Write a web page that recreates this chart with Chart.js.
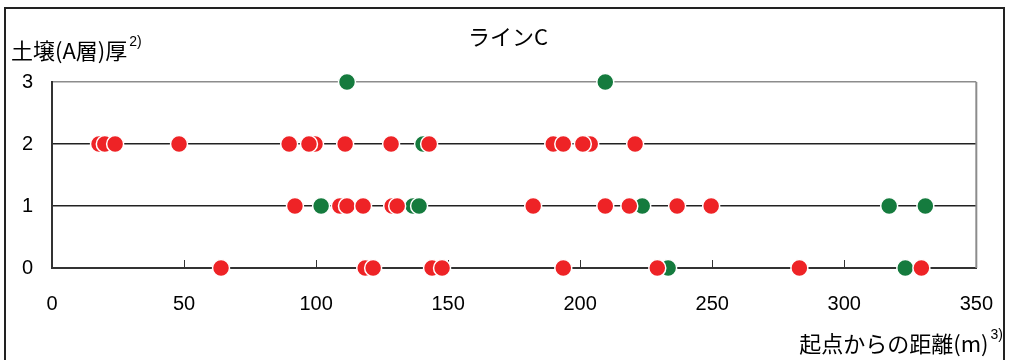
<!DOCTYPE html>
<html lang="ja">
<head>
    <meta charset="UTF-8">
    <title>ラインC</title>
    <script src="https://cdn.jsdelivr.net/npm/chart.js"></script>
    <style>
        body { margin: 0; background: #fff; }
        #wrap { width: 1009px; height: 360px; }
    </style>
</head>
<body>
    <div id="wrap"><canvas id="lineC" width="1009" height="360"></canvas></div>

    <script>
        // Distances (m), one array per thickness level
        const redRow0 = [64, 118.6, 121.6, 143.9, 147.7, 193.6, 229.2, 283, 329.2];
        const greenRow0 = [233.3, 323.1];
        const redRow1 = [92, 109, 111.7, 117.8, 128.8, 130.7, 182.2, 209.5, 218.6, 236.7, 249.6];
        const greenRow1 = [101.9, 136.7, 139, 223.5, 317, 330.7];
        const redRow2 = [17.8, 20, 23.9, 48.1, 89.8, 99.6, 97.3, 111, 128.4, 142.8, 189.8, 193.6, 203.8, 201, 220.8];
        const greenRow2 = [140.5];
        const greenRow3 = [111.7, 209.5];

        const xTicks = [0, 50, 100, 150, 200, 250, 300, 350];
        const yTicks = [0, 1, 2, 3];

        const chartTitle = 'ラインC';
        const yTitle = '土壌(A層)厚';
        const yTitleSup = '2)';
        const xTitle = '起点からの距離(m)';
        const xTitleSup = '3)';

        const RED = '#ee2326';
        const GREEN = '#157b3e';
        const jpFont = '"Noto Sans CJK JP", sans-serif';

        function toPoints(xs, level) {
            return xs.map(x => ({ x: x, y: level }));
        }

        const redPoints = [].concat(
            toPoints(redRow0, 0), toPoints(redRow1, 1), toPoints(redRow2, 2)
        );
        const greenPoints = [].concat(
            toPoints(greenRow0, 0), toPoints(greenRow1, 1), toPoints(greenRow2, 2), toPoints(greenRow3, 3)
        );

        // frame, inner tick marks, right border and the texts with superscripts
        const decorPlugin = {
            id: 'decor',
            beforeDatasetsDraw(chart) {
                const ctx = chart.ctx;
                const area = chart.chartArea;
                const xs = chart.scales.x;
                ctx.save();
                // small ticks pointing up into the plot
                ctx.strokeStyle = '#333';
                ctx.lineWidth = 1;
                xTicks.forEach(v => {
                    if (v === 0 || v === 350) return;
                    const px = Math.round(xs.getPixelForValue(v)) + 0.5;
                    ctx.beginPath();
                    ctx.moveTo(px, area.bottom);
                    ctx.lineTo(px, area.bottom - 8);
                    ctx.stroke();
                });
                // right border of the plot
                ctx.strokeStyle = '#8c8c8c';
                ctx.lineWidth = 2;
                ctx.beginPath();
                ctx.moveTo(area.right, area.top);
                ctx.lineTo(area.right, area.bottom);
                ctx.stroke();
                ctx.restore();
            },
            afterDraw(chart) {
                const ctx = chart.ctx;
                ctx.save();
                // outer frame
                ctx.strokeStyle = '#222';
                ctx.lineWidth = 2;
                ctx.strokeRect(5, 8, 999, 420);

                ctx.fillStyle = '#000';
                ctx.textBaseline = 'middle';

                // title
                ctx.font = '22px ' + jpFont;
                ctx.textAlign = 'center';
                ctx.fillText(chartTitle, 508, 37);

                // y title, top left
                ctx.textAlign = 'left';
                ctx.font = '22px ' + jpFont;
                ctx.fillText(yTitle, 11, 51);
                const yw = ctx.measureText(yTitle).width;
                ctx.font = '14px "Liberation Sans", sans-serif';
                ctx.fillText(yTitleSup, 11 + yw + 2, 42);

                // x title, bottom right
                ctx.font = '14px "Liberation Sans", sans-serif';
                const sw = ctx.measureText(xTitleSup).width;
                ctx.textAlign = 'left';
                ctx.fillText(xTitleSup, 1003 - sw, 335);
                ctx.font = '22px ' + jpFont;
                ctx.textAlign = 'right';
                ctx.fillText(xTitle, 1003 - sw - 2, 344);
                ctx.restore();
            }
        };

        new Chart(document.getElementById('lineC'), {
            type: 'scatter',
            data: {
                datasets: [
                    {
                        label: 'red',
                        data: redPoints,
                        backgroundColor: RED,
                        borderColor: '#fff',
                        borderWidth: 1.5,
                        pointRadius: 8.5,
                        pointHoverRadius: 8.5,
                        clip: false,
                        order: 0
                    },
                    {
                        label: 'green',
                        data: greenPoints,
                        backgroundColor: GREEN,
                        borderColor: '#fff',
                        borderWidth: 1.5,
                        pointRadius: 8.5,
                        pointHoverRadius: 8.5,
                        clip: false,
                        order: 1
                    }
                ]
            },
            options: {
                responsive: false,
                animation: false,
                events: [],
                layout: {
                    padding: { top: 82, right: 21, left: 0, bottom: 0 }
                },
                plugins: {
                    legend: { display: false },
                    tooltip: { enabled: false },
                    title: { display: false }
                },
                scales: {
                    x: {
                        type: 'linear',
                        min: 0,
                        max: 350,
                        afterBuildTicks: scale => {
                            scale.ticks = xTicks.map(v => ({ value: v }));
                        },
                        afterFit: scale => { scale.height = 92; },
                        grid: { display: false },
                        border: { display: true, color: '#333', width: 2 },
                        ticks: {
                            padding: 16,
                            color: '#000',
                            font: { family: '"Liberation Sans", Arial, sans-serif', size: 20 }
                        }
                    },
                    y: {
                        type: 'linear',
                        min: 0,
                        max: 3,
                        afterBuildTicks: scale => {
                            scale.ticks = yTicks.map(v => ({ value: v }));
                        },
                        afterFit: scale => { scale.width = 52; },
                        grid: {
                            drawTicks: false,
                            color: ctx => (ctx.tick && ctx.tick.value === 3) ? '#8c8c8c' : '#222',
                            lineWidth: 1.5
                        },
                        border: { display: true, color: '#333', width: 2 },
                        ticks: {
                            padding: 19,
                            color: '#000',
                            font: { family: '"Liberation Sans", Arial, sans-serif', size: 20 }
                        }
                    }
                }
            },
            plugins: [decorPlugin]
        });
    </script>
</body>
</html>
